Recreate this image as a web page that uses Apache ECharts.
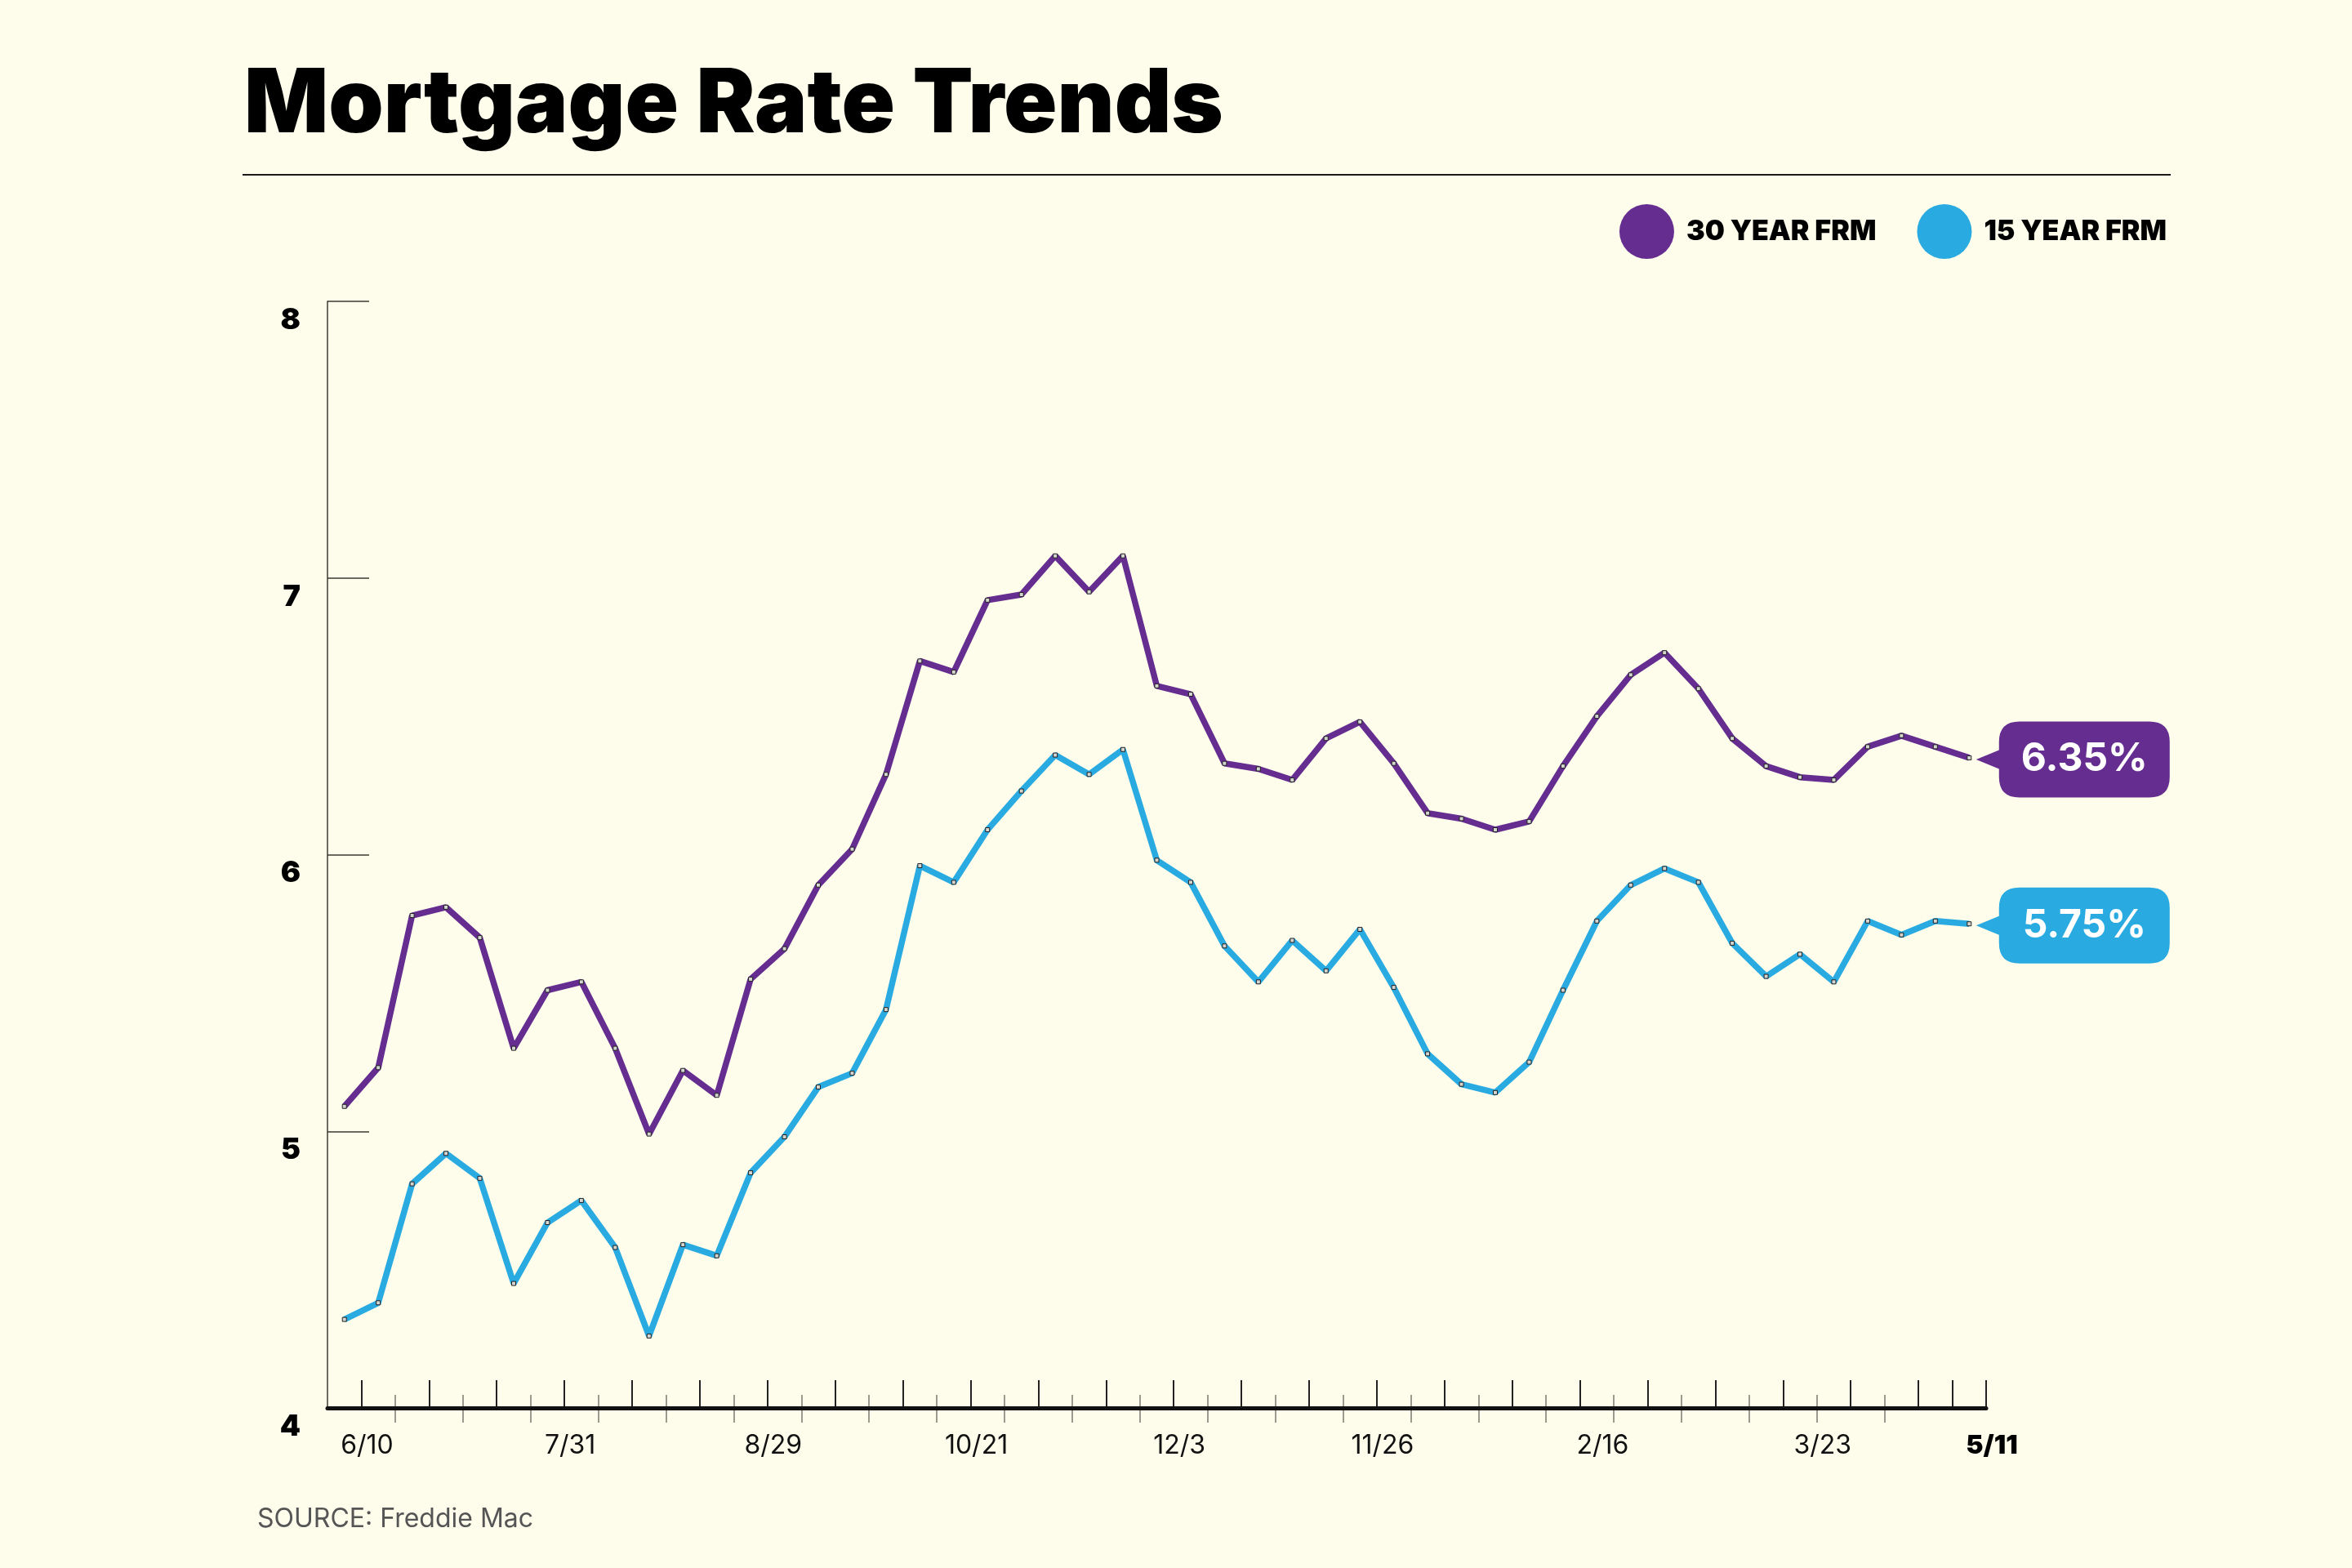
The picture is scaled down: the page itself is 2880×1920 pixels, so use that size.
<!DOCTYPE html>
<html>
<head>
<meta charset="utf-8">
<title>Mortgage Rate Trends</title>
<script src="https://cdn.jsdelivr.net/npm/echarts@6/dist/echarts.min.js"></script>
<style>
  html, body { margin: 0; padding: 0; background: #fefdec; }
  #chart { width: 2880px; height: 1920px; }
</style>
</head>
<body>
<div id="chart"></div>
<script>
/** 数据：每周利率 (%) */
const rate30 = [
    5.09, 5.23, 5.78, 5.81, 5.70, 5.30, 5.51, 5.54, 5.30, 4.99,
    5.22, 5.13, 5.55, 5.66, 5.89, 6.02, 6.29, 6.70, 6.66, 6.92,
    6.94, 7.08, 6.95, 7.08, 6.61, 6.58, 6.33, 6.31, 6.27, 6.42,
    6.48, 6.33, 6.15, 6.13, 6.09, 6.12, 6.32, 6.50, 6.65, 6.73,
    6.60, 6.42, 6.32, 6.28, 6.27, 6.39, 6.43, 6.39, 6.35
];
const rate15 = [
    4.32, 4.38, 4.81, 4.92, 4.83, 4.45, 4.67, 4.75, 4.58, 4.26,
    4.59, 4.55, 4.85, 4.98, 5.16, 5.21, 5.44, 5.96, 5.90, 6.09,
    6.23, 6.36, 6.29, 6.38, 5.98, 5.90, 5.67, 5.54, 5.69, 5.58,
    5.73, 5.52, 5.28, 5.17, 5.14, 5.25, 5.51, 5.76, 5.89, 5.95,
    5.90, 5.68, 5.56, 5.64, 5.54, 5.76, 5.71, 5.76, 5.75
];
const seriesNames = ['30 YEAR FRM', '15 YEAR FRM'];

/** x轴：刻度标签及其所在的周边界 */
const tickLabels = ['6/10', '7/31', '8/29', '10/21', '12/3', '11/26', '2/16', '3/23', '5/11'];
const labelSlots = [1, 7, 13, 19, 25, 31, 37.5, 44, 49];
const majorTicks = [1, 3, 5, 7, 9, 11, 13, 15, 17, 19, 21, 23, 25, 27, 29, 31, 33, 35, 37, 39, 41, 43, 45, 47, 48, 49];
const minorTicks = [2, 4, 6, 8, 10, 12, 14, 16, 18, 20, 22, 24, 26, 28, 30, 32, 34, 36, 38, 40, 42, 44, 46];

/** y轴 */
const yMin = 4, yMax = 8, yStep = 1;

/** 可配置样式 */
const style = {
    bg: '#fefdec',
    purple: '#662d91',
    blue: '#29abe2',
    ink: '#111',
    font: 'Inter, "Noto Sans", sans-serif'
};

// 周序号作为类目
const weeks = rate30.map((v, i) => 'W' + (i + 1));

// 气泡形状 (带左侧尖角)
const bubblePath = 'path://M53,0 L212,0 Q237,0 237,25 L237,68 Q237,93 212,93 L53,93 Q28,93 28,68 L28,58 L0,46.5 L28,35 L28,25 Q28,0 53,0 Z';

const makeSeries = function(name, values, color) {
    const last = values.length - 1;
    return {
        name: name,
        type: 'line',
        xAxisIndex: 0,
        data: values,
        symbol: 'rect',
        symbolSize: 5,
        showSymbol: true,
        lineStyle: { color: color, width: 7.5 },
        itemStyle: { color: '#d4d4d0', borderColor: '#222', borderWidth: 1 },
        emphasis: { disabled: true },
        markPoint: {
            symbol: bubblePath,
            symbolSize: [237, 93],
            symbolOffset: [127, 2],
            itemStyle: { color: color, borderWidth: 0 },
            label: {
                show: true,
                position: 'inside',
                offset: [14, 0],
                color: '#fff',
                fontSize: 48,
                fontWeight: 700,
                fontFamily: style.font,
                formatter: p => p.value.toFixed(2) + '%'
            },
            data: [{ coord: [last, values[last]], value: values[last] }]
        }
    };
};

const option = {
    animation: false,
    backgroundColor: style.bg,
    title: [
        {
            text: 'Mortgage Rate Trends',
            left: 294,
            top: 71,
            textStyle: { fontSize: 108, fontWeight: 900, color: '#000', fontFamily: style.font }
        },
        {
            text: 'SOURCE: Freddie Mac',
            left: 310,
            top: 1839,
            textStyle: { fontSize: 32, fontWeight: 'normal', color: '#555', fontFamily: style.font }
        }
    ],
    graphic: [{
        type: 'line',
        shape: { x1: 297, y1: 214, x2: 2658, y2: 214 },
        style: { stroke: '#1a1a1a', lineWidth: 2 }
    }],
    legend: {
        right: 222,
        top: 245,
        icon: 'circle',
        itemWidth: 67,
        itemHeight: 67,
        itemGap: 50,
        textStyle: { fontSize: 34, fontWeight: 900, color: '#000', fontFamily: style.font, padding: [0, 0, 0, 10] },
        data: [
            { name: seriesNames[0], itemStyle: { color: style.purple, borderWidth: 0 } },
            { name: seriesNames[1], itemStyle: { color: style.blue, borderWidth: 0 } }
        ]
    },
    grid: { left: 401, right: 448, top: 369, bottom: 196, containLabel: false },
    xAxis: [
        {
            // 主类目轴：数据点位于每个周格中央
            type: 'category',
            position: 'bottom',
            data: weeks,
            boundaryGap: true,
            axisLine: { lineStyle: { color: style.ink, width: 5 } },
            axisTick: { show: false },
            axisLabel: { show: false },
            z: 5
        },
        {
            // 长刻度 + 日期标签
            type: 'value',
            position: 'bottom',
            min: 0,
            max: weeks.length,
            axisLine: { show: false },
            splitLine: { show: false },
            axisTick: {
                inside: true,
                length: 34,
                customValues: majorTicks,
                lineStyle: { color: '#222', width: 2 }
            },
            axisLabel: {
                customValues: labelSlots,
                margin: 30,
                padding: [0, 0, 0, 14],
                fontSize: 32,
                color: '#111',
                fontFamily: style.font,
                formatter: function(v) {
                    const i = labelSlots.indexOf(v);
                    if (i < 0) return '';
                    return i === tickLabels.length - 1 ? '{b|' + tickLabels[i] + '}' : tickLabels[i];
                },
                rich: { b: { fontSize: 32, fontWeight: 900, color: '#000', fontFamily: style.font } }
            }
        },
        {
            // 短刻度，穿过轴线
            type: 'value',
            position: 'bottom',
            min: 0,
            max: weeks.length,
            offset: 18,
            axisLine: { show: false },
            splitLine: { show: false },
            axisLabel: { show: false },
            axisTick: {
                inside: true,
                length: 34,
                customValues: minorTicks,
                lineStyle: { color: '#7a7a70', width: 1.5 }
            }
        }
    ],
    yAxis: {
        type: 'value',
        min: yMin,
        max: yMax,
        interval: yStep,
        axisLine: { show: true, lineStyle: { color: '#3a3a30', width: 1.5 } },
        axisTick: { show: true, inside: true, length: 51, lineStyle: { color: '#3a3a30', width: 1.5 } },
        splitLine: { show: false },
        axisLabel: {
            margin: 33,
            verticalAlign: 'top',
            lineHeight: 46,
            fontSize: 36,
            fontWeight: 900,
            color: '#000',
            fontFamily: style.font
        }
    },
    series: [
        makeSeries(seriesNames[0], rate30, style.purple),
        makeSeries(seriesNames[1], rate15, style.blue)
    ]
};

const myChart = echarts.init(document.getElementById('chart'));
myChart.setOption(option);
</script>
</body>
</html>
